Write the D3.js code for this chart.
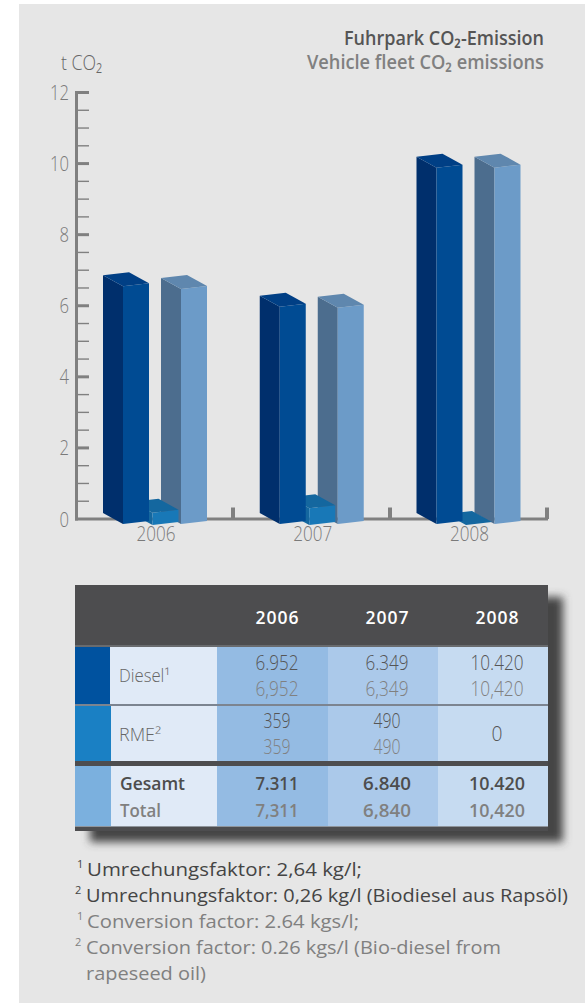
<!DOCTYPE html>
<html><head><meta charset="utf-8">
<script src="https://cdn.jsdelivr.net/npm/d3@7/dist/d3.min.js"></script>
<style>html,body{margin:0;padding:0;background:#fff}svg{display:block}text{font-family:"Open Sans",sans-serif}</style>
</head><body><div id="c"></div>
<script>
const years = ["2006","2007","2008"];
const dieselBars = [6.952, 6.349, 10.42];
const rmeBars = [0.359, 0.49, 0];
const totalBars = [6.87, 6.32, 10.42];
const yTicks = [0,2,4,6,8,10,12];
const minorTicks = d3.range(0,12.01,0.5).filter(d=>d%2!==0);
const dieselDe = ["6.952","6.349","10.420"];
const dieselEn = ["6,952","6,349","10,420"];
const rmeDe = ["359","490","0"];
const rmeEn = ["359","490",""];
const totalDe = ["7.311","6.840","10.420"];
const totalEn = ["7,311","6,840","10,420"];

const W=585,H=1003;
const svg=d3.select("#c").append("svg").attr("width",W).attr("height",H);
const defs=svg.append("defs");
defs.append("filter").attr("id","sh").attr("x","-10%").attr("y","-10%").attr("width","120%").attr("height","120%")
  .append("feGaussianBlur").attr("stdDeviation",4.5);
svg.append("rect").attr("x",19).attr("y",4).attr("width",W-19).attr("height",H-4).attr("fill","#e6e6e6");

function T(x,y,s,o={}){
  const t=svg.append("text").attr("x",x).attr("y",y)
    .attr("font-size",o.size||20).attr("font-weight",o.weight||400).attr("fill",o.fill||"#808080")
    .attr("text-anchor",o.anchor||"start").text(s);
  if(o.w){t.attr("textLength",o.w).attr("lengthAdjust",o.adj||"spacingAndGlyphs");}
  return t;
}

// ---- axis
const y=d3.scaleLinear().domain([0,12]).range([519,92.5]);
const G="#808080";
const line=(x1,y1,x2,y2,w,c=G)=>svg.append("line").attr("x1",x1).attr("y1",y1).attr("x2",x2).attr("y2",y2).attr("stroke",c).attr("stroke-width",w);
line(76.5,91,76.5,520.5,3);
line(75,519,548,519,3);
yTicks.forEach(d=>{ if(d>0) line(76,y(d),89,y(d),3);
  T(69,y(d)+7.5,d,{size:21,weight:300,anchor:"end",fill:"#7a7a7a",w:d>=10?19:9.5});});
minorTicks.forEach(d=>line(76,y(d),89,y(d),1.4));
const sep=d3.scalePoint().domain([0,1,2]).range([233,547]);
[0,1,2].forEach(i=>line(sep(i),507.5,sep(i),519,4));

T(61,70,"t CO₂",{size:20,weight:300,fill:"#666",w:41});
T(344,45,"Fuhrpark CO₂-Emission",{size:19.5,weight:600,fill:"#555",w:200});
T(307,69,"Vehicle fleet CO₂ emissions",{size:19.5,weight:600,fill:"#808080",w:237});

// ---- 3D bars
const fx=d3.scalePoint().domain(years).range([123,436.5]);
const hScale=d3.scaleLinear().domain([0,12]).range([0,410.4]);
const FW=26,FS=-3,SW=20,SS=-11;
function bar(x0,base,v,c){
  const h=hScale(v),g=svg.append("g");
  const P=a=>a.map(p=>p.join(",")).join(" ");
  const poly=(a,f)=>g.append("polygon").attr("points",P(a)).attr("fill",f);
  poly([[x0,base],[x0-SW,base+SS],[x0-SW,base+SS-h],[x0,base-h]],c[0]);
  poly([[x0,base],[x0+FW,base+FS],[x0+FW,base+FS-h],[x0,base-h]],c[2]);
  poly([[x0,base-h],[x0-SW,base+SS-h],[x0-SW+FW,base+SS+FS-h],[x0+FW,base+FS-h]],c[1]);
}
const cDiesel=["#002f6c","#003f85","#004b93"],cRme=["#14679f","#14679f","#1878b7"],cTotal=["#4c6d8e","#5f87ae","#6c9bc8"];
years.forEach((yr,i)=>{
  bar(fx(yr)+58,524,totalBars[i],cTotal);
  bar(fx(yr)+29.5,525,rmeBars[i],cRme);
  bar(fx(yr),524,dieselBars[i],cDiesel);
  T(fx(yr)+33,541,yr,{size:20,weight:300,anchor:"middle",w:39,fill:"#7a7a7a"});
});

// ---- table
const tx0=75,tx1=548,cols=[217,328,438,548];
const colFill=["#94bbe3","#abc9ea","#c6dbf1"];
const rect=(x,y0,w,h,f)=>svg.append("rect").attr("x",x).attr("y",y0).attr("width",w).attr("height",h).attr("fill",f);
rect(90,597,473,245,"#454545").attr("filter","url(#sh)");
rect(tx0,585,tx1-tx0,246,"#4d4d4f");
const rows=[[647,704,"#00529f",110],[706,761,"#1a80c4",111],[766,826,"#7bb0de",111]];
rows.forEach(r=>{
  rect(tx0,r[0],r[3]-tx0,r[1]-r[0],r[2]);
  rect(r[3],r[0],217-r[3],r[1]-r[0],"#e0eaf7");
  colFill.forEach((f,j)=>rect(cols[j],r[0],cols[j+1]-cols[j],r[1]-r[0],f));
});
line(tx0,646,tx1,646,1.2,"#85898e");
line(tx0,705,tx1,705,2,"#7c8490");
line(tx0,826.5,tx1,826.5,1,"#8f959c");
const cx=d3.scalePoint().domain(years).range([277,497]);
const dark="#555",mid="#808080";
const wid=s=>s.length>=6?53:s.length==5?43:s.length==3?27:11;
years.forEach((yr,i)=>{
  T(cx(yr),624,yr,{size:17.5,weight:600,fill:"#fff",anchor:"middle",w:43,adj:"spacing"});
  T(cx(yr),670,dieselDe[i],{size:20,weight:300,fill:dark,anchor:"middle",w:wid(dieselDe[i])});
  T(cx(yr),696,dieselEn[i],{size:20,weight:300,fill:mid,anchor:"middle",w:wid(dieselEn[i])});
  if(rmeEn[i]){
    T(cx(yr),728,rmeDe[i],{size:20,weight:300,fill:dark,anchor:"middle",w:wid(rmeDe[i])});
    T(cx(yr),754,rmeEn[i],{size:20,weight:300,fill:mid,anchor:"middle",w:wid(rmeEn[i])});
  } else T(cx(yr),741,rmeDe[i],{size:20,weight:300,fill:dark,anchor:"middle",w:wid(rmeDe[i])});
  const tw=[43,48,56][i];
  T(cx(yr),790,totalDe[i],{size:17.5,weight:600,fill:"#4d4d4d",anchor:"middle",w:tw});
  T(cx(yr),817,totalEn[i],{size:17.5,weight:600,fill:mid,anchor:"middle",w:tw});
});
T(119,682,"Diesel¹",{size:18,weight:300,fill:"#666",w:51});
T(119,741,"RME²",{size:18,weight:300,fill:"#666",w:42});
T(120,790,"Gesamt",{size:17.5,weight:600,fill:"#4d4d4d",w:65});
T(120,817,"Total",{size:17.5,weight:600,fill:mid,w:41});

// ---- footnotes
const fn=[
 ["1",77,87,876,"Umrechungsfaktor: 2,64 kg/l;",275,"#444"],
 ["2",75,86,902,"Umrechnungsfaktor: 0,26 kg/l (Biodiesel aus Rapsöl)",482,"#444"],
 ["1",77,87,928,"Conversion factor: 2.64 kgs/l;",272,"#808080"],
 ["2",75,86,954,"Conversion factor: 0.26 kgs/l (Bio-diesel from",415,"#808080"],
 ["",75,86,980,"rapeseed oil)",120,"#808080"]];
fn.forEach(f=>{
  if(f[0]) T(f[1],f[3]-8,f[0],{size:11,fill:f[6]});
  T(f[2],f[3],f[4],{size:18.5,fill:f[6],w:f[5]});
});
</script></body></html>
